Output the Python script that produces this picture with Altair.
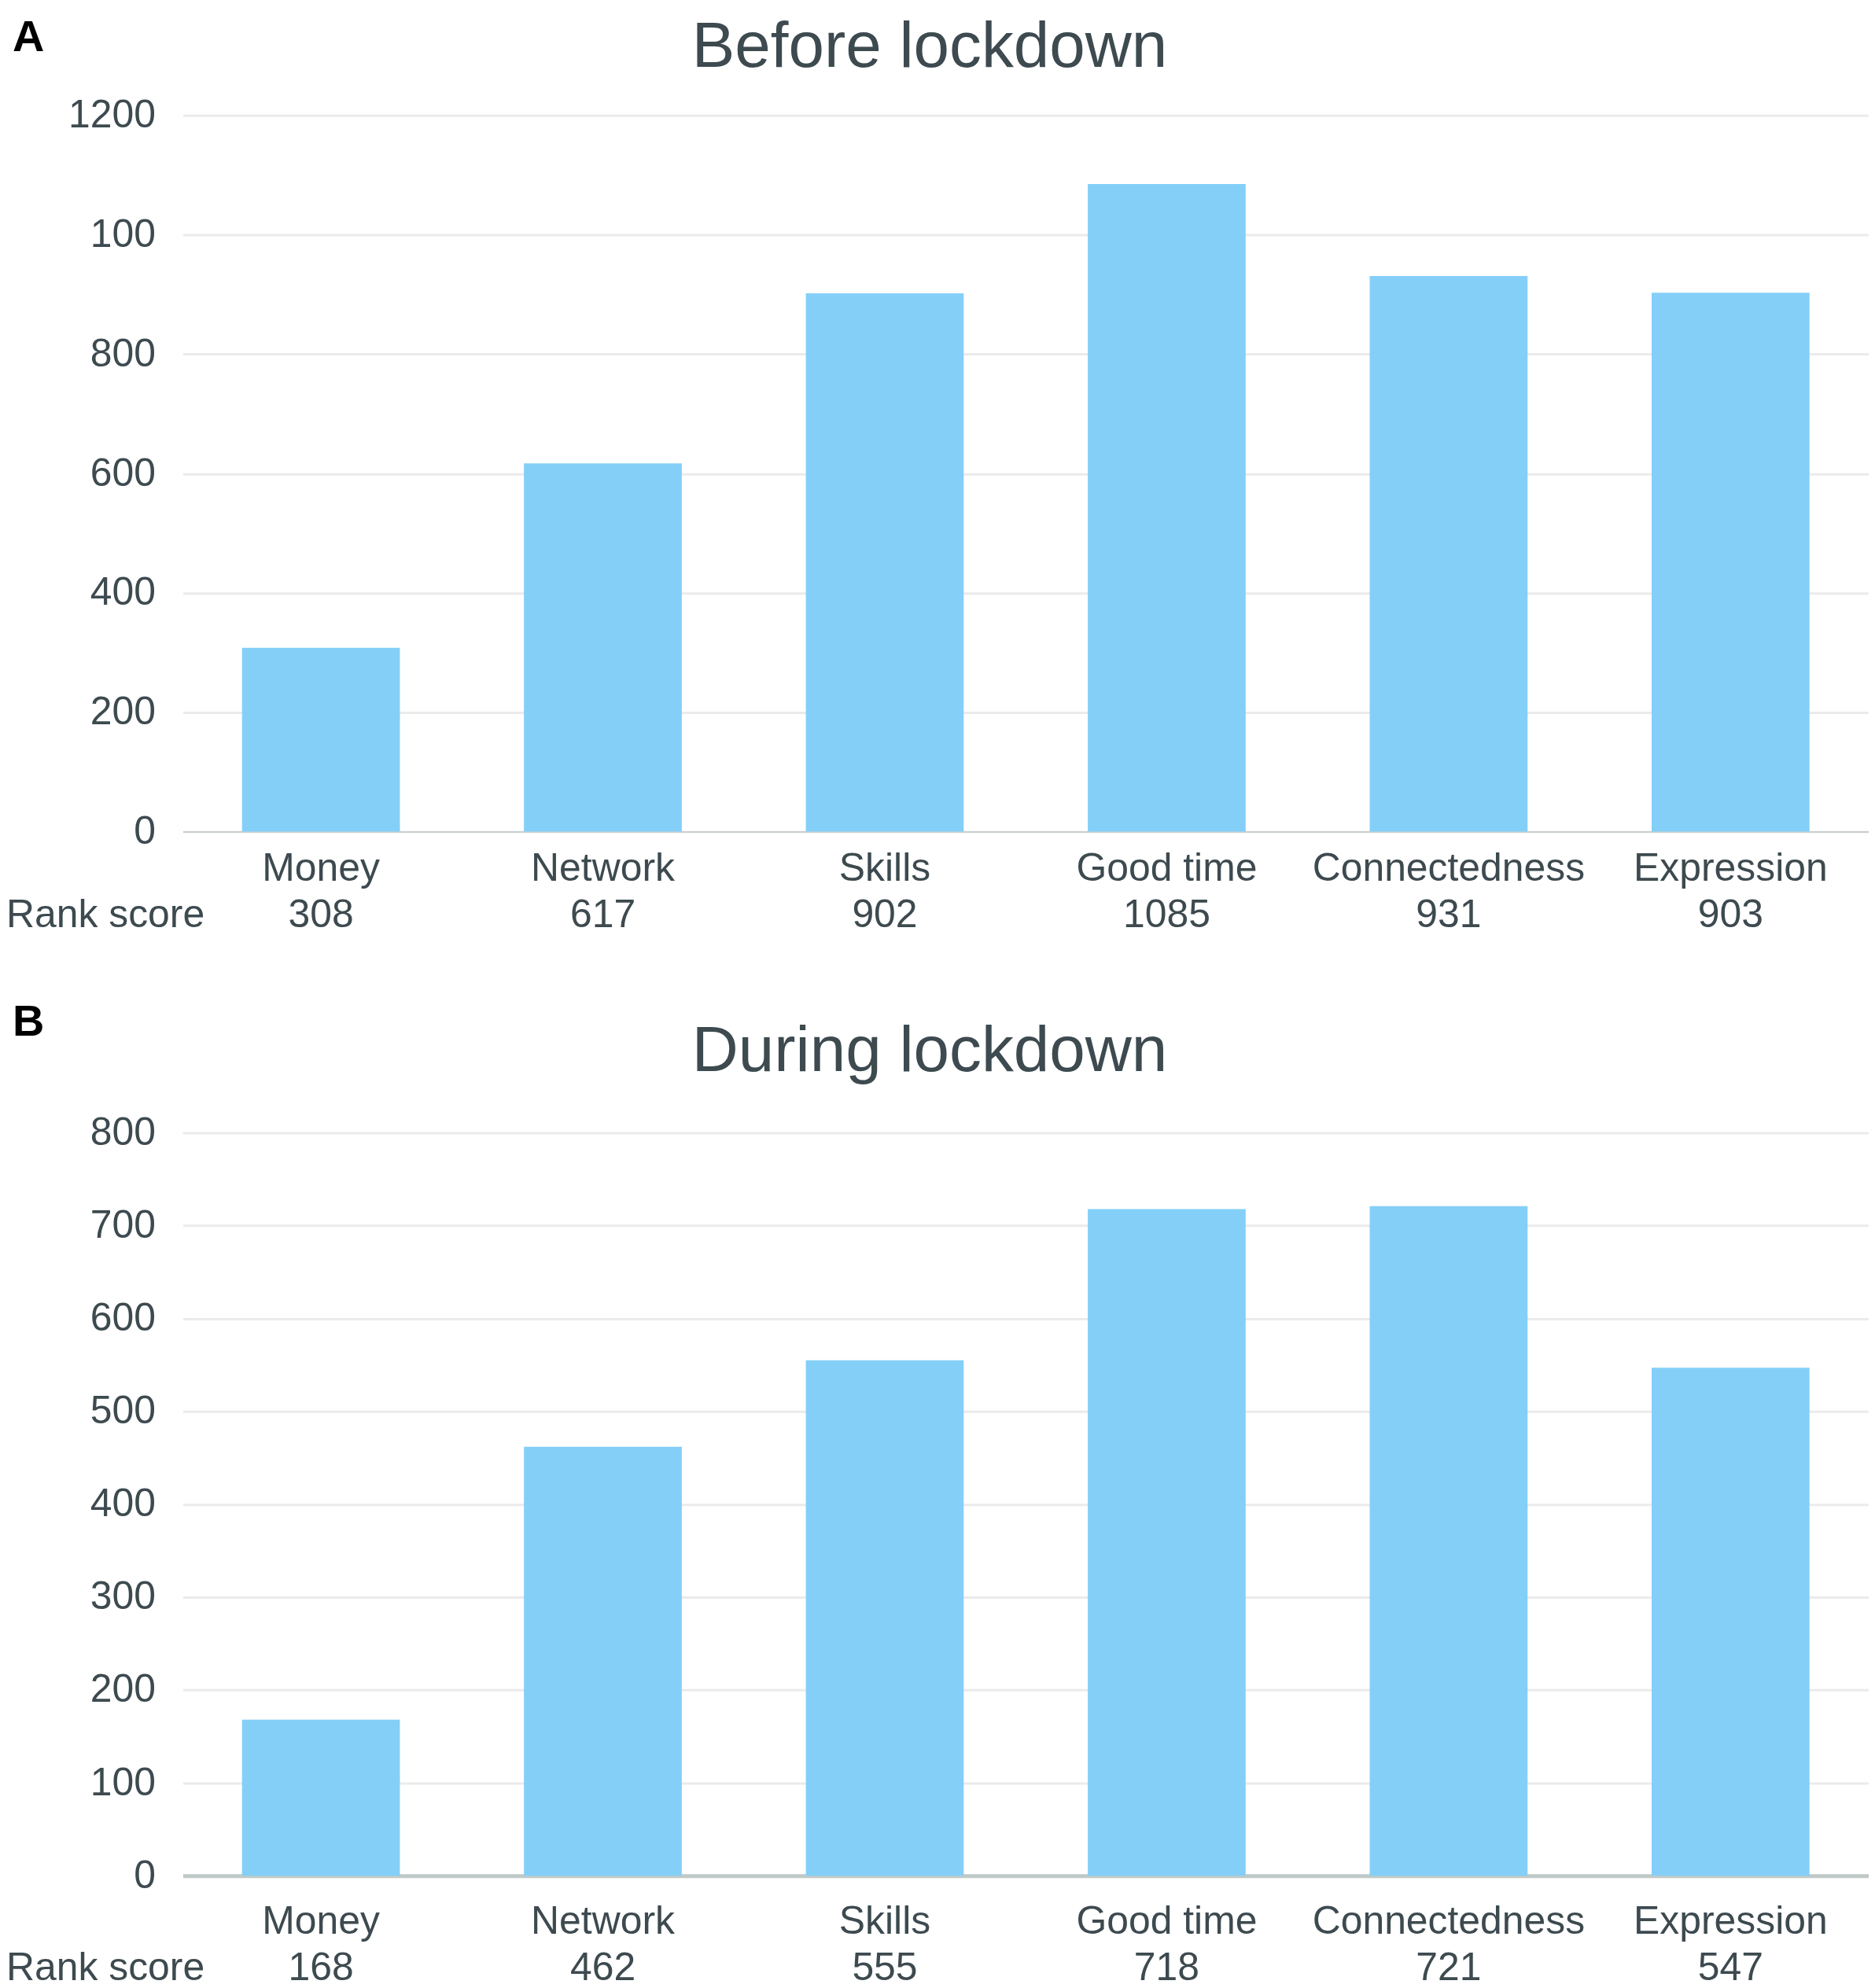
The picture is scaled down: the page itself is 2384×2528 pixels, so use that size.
import altair as alt
import pandas as pd

categories = ["Money", "Network", "Skills", "Good time", "Connectedness", "Expression"]
before_scores = [308, 617, 902, 1085, 931, 903]
during_scores = [168, 462, 555, 718, 721, 547]
before_ticks = [0, 200, 400, 600, 800, 1000, 1200]
during_ticks = [0, 100, 200, 300, 400, 500, 600, 700, 800]

TEXT = "#3d4a4f"
BAR = "#84cff8"
FONT = "Liberation Sans"
W = 2149


def panel(scores, ticks, title, letter, H, ymax, label_expr, cat_off, score_off,
          title_y, letter_y, dom_color, dom_width):
    df = pd.DataFrame({"cat": categories, "score": scores})
    x = alt.X("cat:N", sort=categories, title=None,
              scale=alt.Scale(paddingInner=0.44, paddingOuter=0.21),
              axis=alt.Axis(labels=False, ticks=False, domain=True,
                            domainColor=dom_color, domainWidth=dom_width, grid=False))
    bars = alt.Chart(df).mark_bar(color=BAR).encode(
        x=x,
        y=alt.Y("score:Q", title=None,
                scale=alt.Scale(domain=[0, ymax], nice=False),
                axis=alt.Axis(values=ticks, format="d", labelExpr=label_expr,
                              ticks=False, domain=False, labelPadding=35,
                              labelFont=FONT, labelFontSize=50, labelColor=TEXT,
                              gridColor="#ebebeb", gridWidth=3)),
    )
    cat_text = alt.Chart(df).mark_text(
        font=FONT, fontSize=50, color=TEXT, baseline="alphabetic", align="center"
    ).encode(x=alt.X("cat:N", sort=categories), y=alt.value(H + cat_off), text="cat:N")
    score_text = alt.Chart(df).mark_text(
        font=FONT, fontSize=50, color=TEXT, baseline="alphabetic", align="center"
    ).encode(x=alt.X("cat:N", sort=categories), y=alt.value(H + score_off), text="score:Q")
    rank = alt.Chart(pd.DataFrame({"t": ["Rank score"]})).mark_text(
        font=FONT, fontSize=50, color=TEXT, baseline="alphabetic", align="left"
    ).encode(x=alt.value(-225), y=alt.value(H + score_off), text="t:N")
    ttl = alt.Chart(pd.DataFrame({"t": [title]})).mark_text(
        font=FONT, fontSize=82, color=TEXT, baseline="alphabetic", align="center"
    ).encode(x=alt.value(952), y=alt.value(title_y), text="t:N")
    let = alt.Chart(pd.DataFrame({"t": [letter]})).mark_text(
        font=FONT, fontSize=56, fontWeight="bold", color="#000000",
        baseline="alphabetic", align="left"
    ).encode(x=alt.value(-217), y=alt.value(letter_y), text="t:N")
    return alt.layer(bars, cat_text, score_text, rank, ttl, let).properties(width=W, height=H)


pa = panel(before_scores, before_ticks, "Before lockdown", "A", 913, 1200,
           "datum.value == 1000 ? '100' : datum.label", 63, 122, -62, -82,
           "#cbd0d0", 2)
pb = panel(during_scores, during_ticks, "During lockdown", "B", 947, 800,
           "datum.label", 74, 133, -79, -124, "#bfcac8", 5)

chart = alt.vconcat(pa, pb, spacing=83).properties(
    padding={"top": 8, "left": 0, "right": 0, "bottom": 0},
    background="white",
).configure_view(strokeWidth=0, stroke=None)

chart.save("out.html", embed_options={"renderer": "svg", "actions": False})
